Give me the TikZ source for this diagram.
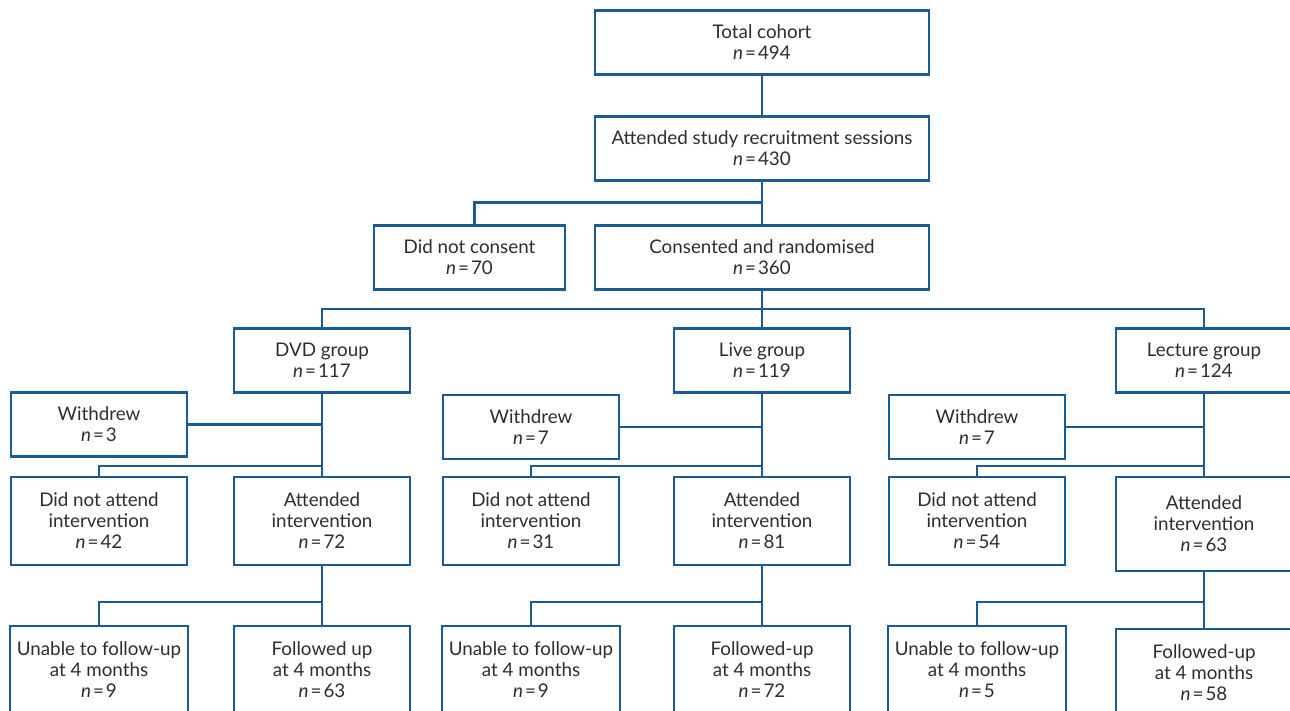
\documentclass[tikz,border=0pt]{standalone}
\usepackage{fontspec}
\setmainfont{Lato}
\usetikzlibrary{positioning,calc}
\definecolor{flowblue}{RGB}{27,91,147}
\definecolor{flowtext}{RGB}{45,45,45}

\begin{document}
\begin{tikzpicture}[
    mainnode/.style={rectangle, draw=flowblue, line width=1.1pt, outer sep=0pt, text=flowtext, align=center, minimum width=167pt, minimum height=32pt, font=\fontsize{9.4}{10.5}\selectfont},
    sidenode/.style={mainnode, minimum width=88pt},
    tallnode/.style={sidenode, minimum height=44pt},
    link/.style={draw=flowblue, line width=1.1pt},
]
\clip (0,0) rectangle (645pt,-355.5pt);
% main column
\node[mainnode]      (total)      at (381pt,-21.25pt)           {Total cohort\\\textit{n}\kern1pt=\kern1pt494};
\node[mainnode]      (recruit)    [below=21pt of total]         {Attended study recruitment sessions\\\textit{n}\kern1pt=\kern1pt430};
\node[mainnode]      (consented)  [below=22.5pt of recruit]     {Consented and randomised\\\textit{n}\kern1pt=\kern1pt360};
\node[sidenode, minimum width=95.5pt] (noconsent) [left=15pt of consented] {Did not consent\\\textit{n}\kern1pt=\kern1pt70};
% groups
\node[sidenode]      (live)       [below=19.5pt of consented]   {Live group\\\textit{n}\kern1pt=\kern1pt119};
\node[sidenode]      (dvd)        [left=132pt of live]          {DVD group\\\textit{n}\kern1pt=\kern1pt117};
\node[sidenode]      (lecture)    [right=133pt of live]         {Lecture group\\\textit{n}\kern1pt=\kern1pt124};
\node[sidenode]      (dvdwd)      [below left=0pt and 23.5pt of dvd]       {Withdrew\\\textit{n}\kern1pt=\kern1pt3};
\node[sidenode]      (livewd)     [below left=1.25pt and 27.5pt of live]   {Withdrew\\\textit{n}\kern1pt=\kern1pt7};
\node[sidenode]      (lecwd)      [below left=1.25pt and 25.5pt of lecture] {Withdrew\\\textit{n}\kern1pt=\kern1pt7};
% intervention
\node[tallnode]      (dvdatt)     [below=42.25pt of dvd]        {Attended\\intervention\\\textit{n}\kern1pt=\kern1pt72};
\node[tallnode]      (liveatt)    [below=42.25pt of live]       {Attended\\intervention\\\textit{n}\kern1pt=\kern1pt81};
\node[tallnode, minimum height=47pt] (lecatt) [below=42.25pt of lecture] {Attended\\intervention\\\textit{n}\kern1pt=\kern1pt63};
\node[tallnode]      (dvdno)      [below left=0pt and 23.5pt of dvdatt.north west]  {Did not attend\\intervention\\\textit{n}\kern1pt=\kern1pt42};
\node[tallnode]      (liveno)     [below left=0pt and 27.5pt of liveatt.north west] {Did not attend\\intervention\\\textit{n}\kern1pt=\kern1pt31};
\node[tallnode]      (lecno)      [below left=0pt and 25.5pt of lecatt.north west]  {Did not attend\\intervention\\\textit{n}\kern1pt=\kern1pt54};
% follow-up
\node[tallnode]      (dvdfu)      [below=30.5pt of dvdatt]      {Followed up\\at 4 months\\\textit{n}\kern1pt=\kern1pt63};
\node[tallnode]      (livefu)     [below=30.5pt of liveatt]     {Followed-up\\at 4 months\\\textit{n}\kern1pt=\kern1pt72};
\node[tallnode]      (lecfu)      [below=29pt of lecatt]        {Followed-up\\at 4 months\\\textit{n}\kern1pt=\kern1pt58};
\node[tallnode]      (dvdun)      [below=30.5pt of dvdno]       {Unable to follow-up\\at 4 months\\\textit{n}\kern1pt=\kern1pt9};
\node[tallnode]      (liveun)     [below=30.5pt of liveno]      {Unable to follow-up\\at 4 months\\\textit{n}\kern1pt=\kern1pt9};
\node[tallnode]      (lecun)      [below=30.5pt of lecno]       {Unable to follow-up\\at 4 months\\\textit{n}\kern1pt=\kern1pt5};
% forks
\coordinate (fork0)   at ([yshift=11.5pt]consented.north);
\coordinate (fork1)   at ([yshift=9.75pt]live.north);
\coordinate (dvdfork1)  at ([yshift=5.5pt]dvdatt.north);
\coordinate (livefork1) at ([yshift=5.5pt]liveatt.north);
\coordinate (lecfork1)  at ([yshift=5.5pt]lecatt.north);
\coordinate (dvdfork2)  at ($(dvdatt.south |- dvdun.north)+(0,12pt)$);
\coordinate (livefork2) at ($(liveatt.south |- liveun.north)+(0,12pt)$);
\coordinate (lecfork2)  at ($(lecatt.south |- lecun.north)+(0,12pt)$);
% connectors
\draw[link] (total.south) -- (recruit.north);
\draw[link] (recruit.south) -- (consented.north);
\draw[link] (fork0) -| ([xshift=2.5pt]noconsent.north);
\draw[link] (consented.south) -- (live.north);
\draw[link] (dvd.north) |- (fork1) -| (lecture.north);
\draw[link] (dvd.south) -- (dvdatt.north);
\draw[link] (live.south) -- (liveatt.north);
\draw[link] (lecture.south) -- (lecatt.north);
\draw[link] (dvdwd.east) -- (dvdwd.east -| dvd.south);
\draw[link] (livewd.east) -- (livewd.east -| live.south);
\draw[link] (lecwd.east) -- (lecwd.east -| lecture.south);
\draw[link] (dvdfork1) -| (dvdno.north);
\draw[link] (livefork1) -| (liveno.north);
\draw[link] (lecfork1) -| (lecno.north);
\draw[link] (dvdatt.south) -- (dvdfu.north);
\draw[link] (liveatt.south) -- (livefu.north);
\draw[link] (lecatt.south) -- (lecfu.north);
\draw[link] (dvdfork2) -| (dvdun.north);
\draw[link] (livefork2) -| (liveun.north);
\draw[link] (lecfork2) -| (lecun.north);
\end{tikzpicture}
\end{document}
